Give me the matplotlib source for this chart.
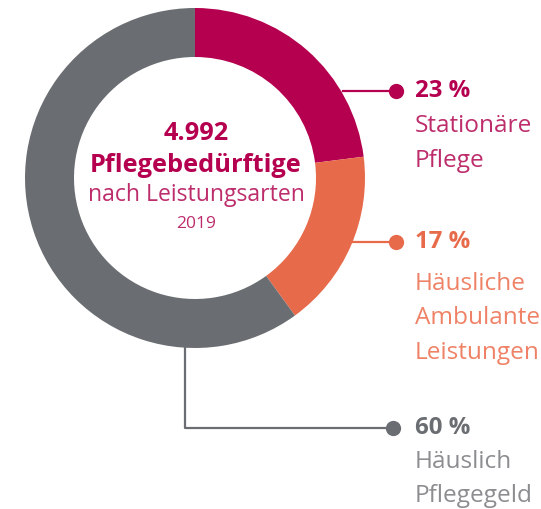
import matplotlib.pyplot as plt

plt.rcParams['font.family'] = ['Open Sans', 'DejaVu Sans']

# data
shares = [23, 17, 60]
pct_labels = ['23 %', '17 %', '60 %']
cat_labels = [['Stationäre', 'Pflege'],
              ['Häusliche', 'Ambulante', 'Leistungen'],
              ['Häuslich', 'Pflegegeld']]
colors = ['#b5004f', '#e76a4a', '#6a6d71']
text_colors = ['#bd2d6c', '#ef8266', '#8b8d90']

W, H = 541, 509

def py(y):  # pixel row -> data y (y up)
    return H - y

fig = plt.figure(figsize=(W / 100, H / 100), dpi=100)
ax = fig.add_axes([0, 0, 1, 1])

# donut
cx, cy, r_out, ring = 195, 178, 170, 49
ax.pie(shares, colors=colors, startangle=90, counterclock=False,
       center=(cx, py(cy)), radius=r_out, frame=True,
       wedgeprops=dict(width=ring, linewidth=0))
ax.set_xlim(0, W)
ax.set_ylim(0, H)
ax.set_aspect('equal')
ax.axis('off')

# centre text
ax.text(196, py(133), '4.992', ha='center', va='center', fontsize=18.3,
        fontweight='bold', color='#b5004f')
ax.text(196, py(165), 'Pflegebedürftige', ha='center', va='center', fontsize=18.3,
        fontweight='bold', color='#b5004f')
ax.text(196, py(195), 'nach Leistungsarten', ha='center', va='center', fontsize=16.6,
        color='#bd2d6c')
ax.text(196, py(224), '2019', ha='center', va='center', fontsize=12.5,
        color='#bd2d6c')

# connectors
dot_y = [91, 242, 428]
ax.plot([343, 396], [py(91), py(91)], color=colors[0], lw=1.6)
ax.plot([353, 396], [py(242), py(242)], color=colors[1], lw=1.6)
ax.plot([185, 185, 393], [py(346), py(428), py(428)], color=colors[2], lw=1.6)
dot_x = [396, 396, 393]
for i in range(3):
    ax.plot(dot_x[i], py(dot_y[i]), 'o', color=colors[i], markersize=11, mew=0)

# labels
first_line = [126, 284, 462]
step = 34.5
for i in range(3):
    ax.text(415, py(dot_y[i]), pct_labels[i], ha='left', va='center', fontsize=17.3,
            fontweight='bold', color=colors[i])
    for j, line in enumerate(cat_labels[i]):
        ax.text(415, py(first_line[i] + j * step), line, ha='left', va='center',
                fontsize=17.6, color=text_colors[i])

fig.savefig('out.png', dpi=100)
